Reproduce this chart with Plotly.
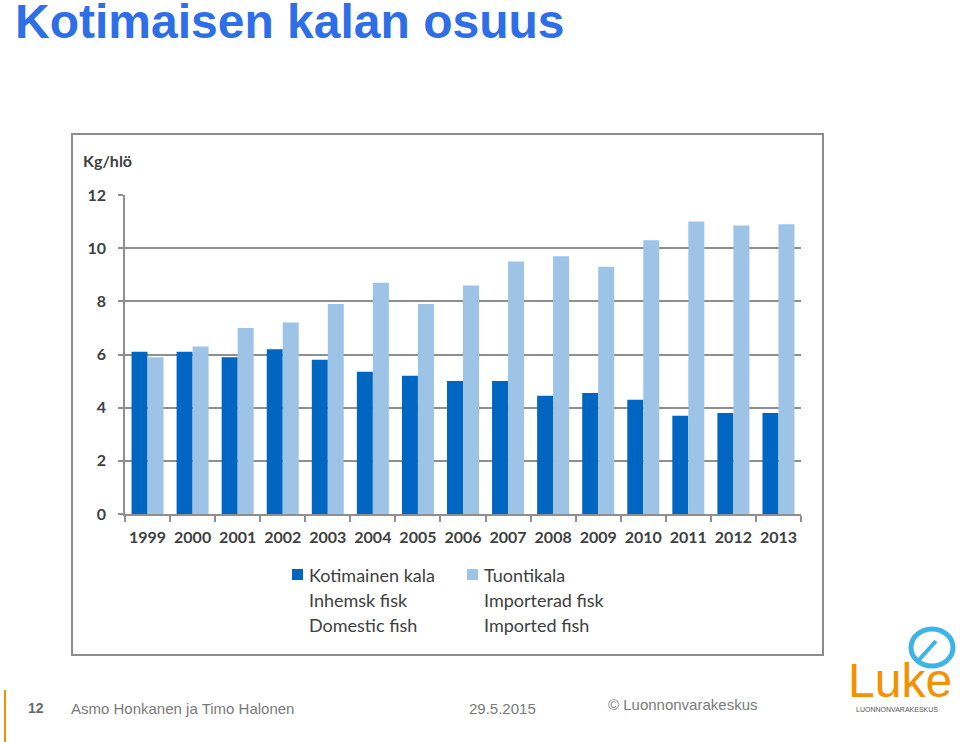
import plotly.graph_objects as go

years = ["1999", "2000", "2001", "2002", "2003", "2004", "2005", "2006",
         "2007", "2008", "2009", "2010", "2011", "2012", "2013"]
domestic = [6.1, 6.1, 5.9, 6.2, 5.8, 5.35, 5.2, 5.0, 5.0, 4.45, 4.55, 4.3, 3.7, 3.8, 3.8]
imported = [5.9, 6.3, 7.0, 7.2, 7.9, 8.7, 7.9, 8.6, 9.5, 9.7, 9.3, 10.3, 11.0, 10.85, 10.9]
y_ticks = [0, 2, 4, 6, 8, 10, 12]
legend_domestic = ["Kotimainen kala", "Inhemsk fisk", "Domestic fish"]
legend_imported = ["Tuontikala", "Importerad fisk", "Imported fish"]

C_DOM = "#0066C2"
C_IMP = "#9DC3E6"
GRID = "#8f8f8f"
TXT = "#404040"

W, H = 960, 742
L, R, T, B = 125, 801, 195, 514  # plot area in pixels


def px(x):
    return (x - L) / (R - L)


def py(y):
    return (B - y) / (B - T)


fig = go.Figure()
fig.add_trace(go.Bar(x=years, y=domestic, name=legend_domestic[0],
                     marker=dict(color=C_DOM, line_width=0)))
fig.add_trace(go.Bar(x=years, y=imported, name=legend_imported[0],
                     marker=dict(color=C_IMP, line_width=0)))

shapes = []
annotations = []

# chart frame
shapes.append(dict(type="rect", xref="paper", yref="paper",
                   x0=px(72), x1=px(823), y0=py(655), y1=py(134),
                   line=dict(color="#8c8c8c", width=2), layer="below"))

# title
annotations.append(dict(text="<b>Kotimaisen kalan osuus</b>", xref="paper", yref="paper",
                        x=px(13), y=py(21), xanchor="left", yanchor="middle",
                        showarrow=False,
                        font=dict(family="Liberation Sans, Arial", size=48, color="#2E6EE6")))

# unit label
annotations.append(dict(text="<b>Kg/hlö</b>", xref="paper", yref="paper",
                        x=px(81), y=py(160), xanchor="left", yanchor="middle",
                        showarrow=False, font=dict(family="Lato", size=16, color=TXT)))

# legend (manual)
for col, (labels, color, mx) in enumerate([(legend_domestic, C_DOM, 292),
                                           (legend_imported, C_IMP, 467)]):
    shapes.append(dict(type="rect", xref="paper", yref="paper",
                       x0=px(mx), x1=px(mx + 11), y0=py(580), y1=py(569),
                       fillcolor=color, line_width=0))
    for i, lab in enumerate(labels):
        annotations.append(dict(text=lab, xref="paper", yref="paper",
                                x=px(mx + 15), y=py(575 + i * 25), xanchor="left",
                                yanchor="middle", showarrow=False,
                                font=dict(family="Lato", size=18, color=TXT)))

# footer
shapes.append(dict(type="line", xref="paper", yref="paper",
                   x0=px(5), x1=px(5), y0=py(690), y1=py(742),
                   line=dict(color="#F39200", width=2)))
footer_font = dict(family="Liberation Sans, Arial", size=15, color="#7a7a7a")
annotations.append(dict(text="<b>12</b>", xref="paper", yref="paper", x=px(26), y=py(708),
                        xanchor="left", yanchor="middle", showarrow=False,
                        font=dict(family="Liberation Sans, Arial", size=14, color="#6a6a6a")))
annotations.append(dict(text="Asmo Honkanen ja Timo Halonen", xref="paper", yref="paper",
                        x=px(69), y=py(708), xanchor="left", yanchor="middle",
                        showarrow=False, font=footer_font))
annotations.append(dict(text="29.5.2015", xref="paper", yref="paper",
                        x=px(467), y=py(708), xanchor="left", yanchor="middle",
                        showarrow=False, font=footer_font))
annotations.append(dict(text="© Luonnonvarakeskus", xref="paper", yref="paper",
                        x=px(606), y=py(704), xanchor="left", yanchor="middle",
                        showarrow=False, font=footer_font))

# logo
annotations.append(dict(text="Luke", xref="paper", yref="paper",
                        x=px(846), y=py(680), xanchor="left", yanchor="middle",
                        showarrow=False,
                        font=dict(family="Liberation Sans, Arial", size=48, color="#F39200")))
annotations.append(dict(text="LUONNONVARAKESKUS", xref="paper", yref="paper",
                        x=px(897), y=py(709), xanchor="center", yanchor="middle",
                        showarrow=False,
                        font=dict(family="Liberation Sans, Arial", size=7, color="#555555")))
# speech bubble
shapes.append(dict(type="circle", xref="paper", yref="paper",
                   x0=px(911), x1=px(953), y0=py(666), y1=py(629),
                   line=dict(color="#3DB4E6", width=5)))
shapes.append(dict(type="line", xref="paper", yref="paper",
                   x0=px(917), x1=px(936), y0=py(662), y1=py(641),
                   line=dict(color="#3DB4E6", width=4)))

fig.update_layout(
    width=W, height=H, autosize=False,
    margin=dict(l=L, r=W - R, t=T, b=H - B, pad=0),
    paper_bgcolor="white", plot_bgcolor="white",
    barmode="group", bargap=0.29, bargroupgap=0,
    showlegend=False,
    shapes=shapes, annotations=annotations,
    font=dict(family="Lato", color=TXT),
)
fig.update_xaxes(
    type="category", showgrid=False, showline=True, linecolor=GRID, linewidth=1.5,
    ticks="outside", tickson="boundaries", ticklen=6, tickcolor=GRID, tickwidth=1.5,
    tickangle=0,
    tickfont=dict(family="Lato", size=16, color=TXT, weight="bold"),
    ticklabelstandoff=8,
)
fig.update_yaxes(
    range=[0, 12], tickvals=y_ticks, showgrid=True, gridcolor=GRID, gridwidth=1.5,
    showline=True, linecolor=GRID, linewidth=1.5, zeroline=False,
    ticks="outside", ticklen=5, tickcolor=GRID, tickwidth=1.5,
    tickfont=dict(family="Lato", size=16, color=TXT, weight="bold"),
    ticklabelstandoff=9,
)

fig.write_html("out.html", config={"displayModeBar": False},
               post_script="document.body.style.margin='0';")
